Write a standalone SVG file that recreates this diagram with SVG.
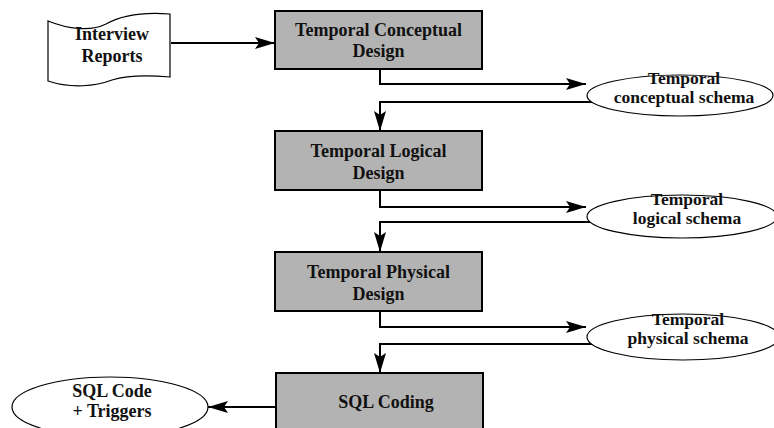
<svg xmlns="http://www.w3.org/2000/svg" width="774" height="428" viewBox="0 0 774 428">
<style>
  .box { fill: #b3b3b3; stroke: #000; stroke-width: 2; }
  .ell { fill: #fff; stroke: #000; stroke-width: 1.2; }
  .doc { fill: #fff; stroke: #000; stroke-width: 1.2; }
  .t { font-family: "Liberation Serif", "Times New Roman", serif; font-weight: bold; font-size: 18px; fill: #111; text-anchor: middle; }
  .s { font-size: 17.5px; }
  .c { fill: none; stroke: #000; stroke-width: 2; }
</style>
<defs>
  <marker id="ah" viewBox="0 0 20 12" refX="20" refY="6" markerWidth="20" markerHeight="12" markerUnits="userSpaceOnUse" orient="auto">
    <path d="M0,0 L20,6 L0,12 L4,6 Z" fill="#000"/>
  </marker>
</defs>
<rect width="774" height="428" fill="#fff"/>

<g id="connectors">
  <path class="c" d="M171,43 L275,43" marker-end="url(#ah)"/>
  <path class="c" d="M380,69 L380,84 L586,84" marker-end="url(#ah)"/>
  <path class="c" d="M598,102 L380,102 L380,131" marker-end="url(#ah)"/>
  <path class="c" d="M380,190 L380,207 L586,207" marker-end="url(#ah)"/>
  <path class="c" d="M591,222 L380,222 L380,252" marker-end="url(#ah)"/>
  <path class="c" d="M380,311 L380,327 L586,327" marker-end="url(#ah)"/>
  <path class="c" d="M595,344 L380,344 L380,373" marker-end="url(#ah)"/>
  <path class="c" d="M276,407 L208,407" marker-end="url(#ah)"/>
</g>

<g id="interview-reports">
  <path class="doc" d="M48,21 C68,29 90,32 106,24 C122,15 145,12 170,14 L170,77 C148,75 128,75 112,80 C96,86 72,89 48,81 Z"/>
  <text class="t" x="112" y="40">Interview</text>
  <text class="t" x="112" y="62">Reports</text>
</g>

<g id="conceptual-design">
  <rect class="box" x="275" y="11" width="207" height="58"/>
  <text class="t" x="378.5" y="36">Temporal Conceptual</text>
  <text class="t" x="378.5" y="57">Design</text>
</g>

<g id="conceptual-schema">
  <ellipse class="ell" cx="680" cy="95.5" rx="93" ry="20.5"/>
  <text class="t s" x="684" y="84">Temporal</text>
  <text class="t s" x="684" y="103">conceptual schema</text>
</g>

<g id="logical-design">
  <rect class="box" x="275" y="131" width="207" height="59"/>
  <text class="t" x="378.5" y="157">Temporal Logical</text>
  <text class="t" x="378.5" y="179">Design</text>
</g>

<g id="logical-schema">
  <ellipse class="ell" cx="682" cy="216.5" rx="95" ry="21.5"/>
  <text class="t s" x="687" y="205">Temporal</text>
  <text class="t s" x="687" y="224">logical schema</text>
</g>

<g id="physical-design">
  <rect class="box" x="275" y="252" width="207" height="59"/>
  <text class="t" x="378.5" y="278">Temporal Physical</text>
  <text class="t" x="378.5" y="300">Design</text>
</g>

<g id="physical-schema">
  <ellipse class="ell" cx="683" cy="337" rx="96" ry="23"/>
  <text class="t s" x="688" y="325">Temporal</text>
  <text class="t s" x="688" y="344">physical schema</text>
</g>

<g id="sql-coding">
  <rect class="box" x="276" y="373" width="207" height="70"/>
  <text class="t" x="386" y="408">SQL Coding</text>
</g>

<g id="sql-code">
  <ellipse class="ell" cx="110" cy="407" rx="98" ry="30"/>
  <text class="t" x="112" y="397">SQL Code</text>
  <text class="t" x="112" y="417">+ Triggers</text>
</g>
</svg>
